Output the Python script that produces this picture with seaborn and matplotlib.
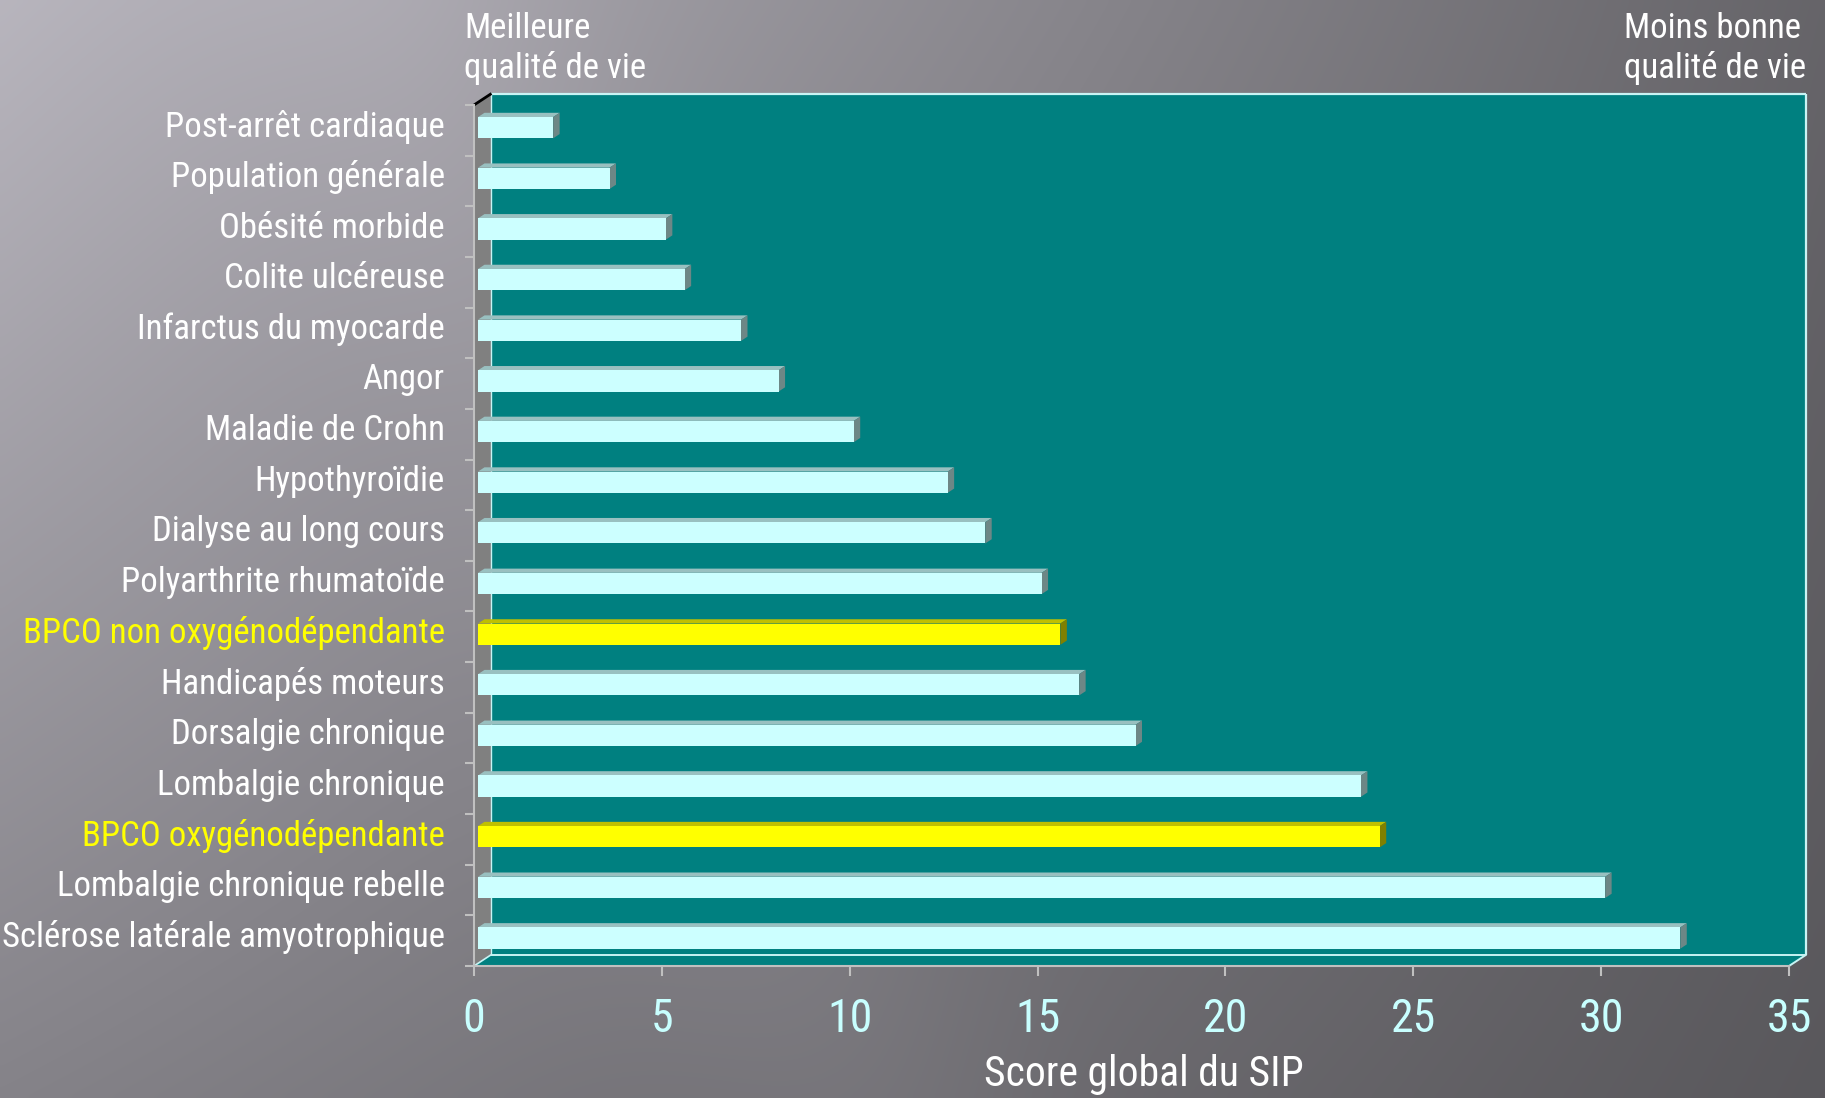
import numpy as np
import pandas as pd
import matplotlib
matplotlib.use("Agg")
import matplotlib.pyplot as plt
import matplotlib.colors as mcolors
from matplotlib import font_manager
from matplotlib.patches import Polygon
from matplotlib.lines import Line2D
from matplotlib.transforms import ScaledTranslation
import seaborn as sns

# --- data -----------------------------------------------------------------
conditions = [
    "Post-arrêt cardiaque",
    "Population générale",
    "Obésité morbide",
    "Colite ulcéreuse",
    "Infarctus du myocarde",
    "Angor",
    "Maladie de Crohn",
    "Hypothyroïdie",
    "Dialyse au long cours",
    "Polyarthrite rhumatoïde",
    "BPCO non oxygénodépendante",
    "Handicapés moteurs",
    "Dorsalgie chronique",
    "Lombalgie chronique",
    "BPCO oxygénodépendante",
    "Lombalgie chronique rebelle",
    "Sclérose latérale amyotrophique",
]
sip_scores = [2, 3.5, 5, 5.5, 7, 8, 10, 12.5, 13.5, 15, 15.5, 16, 17.5, 23.5, 24, 30, 32]
highlighted = ["BPCO non oxygénodépendante", "BPCO oxygénodépendante"]
x_ticks = [0, 5, 10, 15, 20, 25, 30, 35]
x_title = "Score global du SIP"
left_note = "Meilleure\nqualité de vie"
right_note = "Moins bonne\nqualité de vie"

# --- style ----------------------------------------------------------------
W, H, DPI = 1825, 1098, 100
sns.set_theme(style="white")
installed = {f.name for f in font_manager.fontManager.ttflist}
main_font = next(
    (f for f in ["Liberation Sans Narrow", "Roboto Condensed", "Open Sans Condensed",
                 "Liberation Sans", "DejaVu Sans"] if f in installed),
    "DejaVu Sans",
)
plt.rcParams["font.family"] = [main_font, "DejaVu Sans"]

BAR_FRONT = {"autre": "#ccffff", "BPCO": "#ffff00"}
BAR_SHADES = {"#ccffff": ("#99c0c0", "#6d8786"), "#ffff00": ("#c0c000", "#808000")}
WALL = "#008080"
SIDE_WALL = "#808080"
EDGE = "#c8f4f4"
AXIS_GREY = "#c0c0c0"

fig = plt.figure(figsize=(W / DPI, H / DPI), dpi=DPI)

# gradient backdrop
ny, nx = 220, 365
yy, xx = np.mgrid[0:1:ny * 1j, 0:1:nx * 1j]
tl, tr, bl, br = 0.72, 0.40, 0.52, 0.35
lum = tl * (1 - xx) * (1 - yy) + tr * xx * (1 - yy) + bl * (1 - xx) * yy + br * xx * yy
lum += 0.025 * np.exp(-((xx - 0.22 - 0.25 * yy) / 0.10) ** 2)
rgb = np.clip(np.dstack([lum * 1.0, lum * 0.985, lum * 1.03]), 0, 1)
bg = fig.add_axes([0, 0, 1, 1], zorder=0)
bg.imshow(rgb, aspect="auto", extent=[0, 1, 0, 1], interpolation="bicubic")
bg.set_axis_off()

# front plane of the chart box
ax = fig.add_axes([474 / W, (H - 966) / H, 1315 / W, 861 / H], zorder=2)
ax.set_facecolor("none")

df = pd.DataFrame({"condition": conditions, "score": sip_scores})
df["groupe"] = np.where(df["condition"].isin(highlighted), "BPCO", "autre")

sns.barplot(
    data=df, x="score", y="condition", hue="groupe", palette=BAR_FRONT,
    width=0.42, dodge=False, legend=False, saturation=1, edgecolor="none",
    linewidth=0, ax=ax,
)
bars = list(ax.patches)
ax.set_xlim(0, 35)
ax.set_ylim(len(conditions) - 0.5, -0.5)
ax.set_xlabel("")
ax.set_ylabel("")

# --- pseudo 3-D box -------------------------------------------------------
DEPTH = np.array([17.5, 11.5])          # pixels from front plane to back wall
to_fig = fig.transFigure.inverted()


def pt(v, c, depth):
    p = ax.transData.transform((v, c)) + depth * DEPTH
    return to_fig.transform(p)


def face(verts, color, z):
    ax.add_patch(Polygon(verts, closed=True, transform=fig.transFigure,
                         facecolor=color, edgecolor="none", zorder=z, clip_on=False))


def edge(p0, p1, color, lw, z):
    ax.add_line(Line2D([p0[0], p1[0]], [p0[1], p1[1]], transform=fig.transFigure,
                       color=color, lw=lw, zorder=z, clip_on=False,
                       solid_capstyle="butt"))


y_top, y_bot = -0.5, len(conditions) - 0.5
x_lo, x_hi = 0, 35
face([pt(x_lo, y_top, 1), pt(x_hi, y_top, 1), pt(x_hi, y_bot, 1), pt(x_lo, y_bot, 1)], WALL, 1)
face([pt(x_lo, y_top, 0), pt(x_lo, y_top, 1), pt(x_lo, y_bot, 1), pt(x_lo, y_bot, 0)], SIDE_WALL, 1.1)
face([pt(x_lo, y_bot, 0), pt(x_hi, y_bot, 0), pt(x_hi, y_bot, 1), pt(x_lo, y_bot, 1)], WALL, 1.2)

edge(pt(x_lo, y_top, 1), pt(x_hi, y_top, 1), EDGE, 1.6, 1.5)
edge(pt(x_hi, y_top, 1), pt(x_hi, y_bot, 1), EDGE, 1.6, 1.5)
edge(pt(x_lo, y_top, 1), pt(x_lo, y_bot, 1), EDGE, 1.0, 1.5)
edge(pt(x_lo, y_bot, 1), pt(x_hi, y_bot, 1), EDGE, 1.4, 1.5)
edge(pt(x_lo, y_bot, 0), pt(x_lo, y_bot, 1), EDGE, 1.2, 1.5)
edge(pt(x_hi, y_bot, 0), pt(x_hi, y_bot, 1), EDGE, 1.4, 1.5)
edge(pt(x_lo, y_top, 0), pt(x_lo, y_top, 1), "#000000", 2.0, 1.6)

# bars: front faces from seaborn, plus their top and end faces
F0, F1 = 0.23, 0.60
shift = ScaledTranslation(F0 * DEPTH[0] / DPI, F0 * DEPTH[1] / DPI, fig.dpi_scale_trans)
for bar in bars:
    x0, w = bar.get_x(), bar.get_width()
    y0, h = bar.get_y(), bar.get_height()
    yt, yb = min(y0, y0 + h), max(y0, y0 + h)
    front = mcolors.to_hex(bar.get_facecolor())
    top_c, side_c = BAR_SHADES.get(front, ("#99c0c0", "#6d8786"))
    face([pt(x0, yt, F0), pt(x0 + w, yt, F0), pt(x0 + w, yt, F1), pt(x0, yt, F1)], top_c, 3)
    face([pt(x0 + w, yt, F0), pt(x0 + w, yt, F1), pt(x0 + w, yb, F1), pt(x0 + w, yb, F0)], side_c, 3)
    bar.set_transform(ax.transData + shift)
    bar.set_zorder(4)
    bar.set_clip_on(False)

# --- axes, ticks, labels --------------------------------------------------
for side in ["top", "right"]:
    ax.spines[side].set_visible(False)
for side in ["left", "bottom"]:
    ax.spines[side].set_color(AXIS_GREY)
    ax.spines[side].set_linewidth(1.5)
    ax.spines[side].set_zorder(5)

ax.set_xticks(x_ticks)
ax.set_xticklabels([str(t) for t in x_ticks])
ax.tick_params(axis="x", which="major", direction="out", length=7.2, width=1.5,
               color=AXIS_GREY, labelcolor="#c8ffff", labelsize=33, pad=15, bottom=True)
# category names sit level with the bar faces, slightly above the slot centre
label_lift = 0.14
ax.set_yticks(np.arange(len(conditions)) - label_lift)
ax.set_yticklabels(conditions)
ax.set_yticks(np.arange(-0.5, len(conditions), 1.0), minor=True)
ax.tick_params(axis="y", which="major", length=0, labelsize=25, pad=21, left=False)
ax.tick_params(axis="y", which="minor", direction="out", length=6.5, width=1.5,
               color=AXIS_GREY, left=True)
for lab in ax.get_yticklabels():
    lab.set_color("#ffff00" if lab.get_text() in highlighted else "#ffffff")

fig.text(1144 / W, (H - 1086) / H, x_title, ha="center", va="baseline",
         color="white", fontsize=30)
fig.text(464 / W, (H - 12) / H, left_note, ha="left", va="top",
         color="white", fontsize=25, linespacing=1.22)
fig.text(1624 / W, (H - 12) / H, right_note, ha="left", va="top",
         color="white", fontsize=25, linespacing=1.22)

fig.savefig("out.png", dpi=DPI)
